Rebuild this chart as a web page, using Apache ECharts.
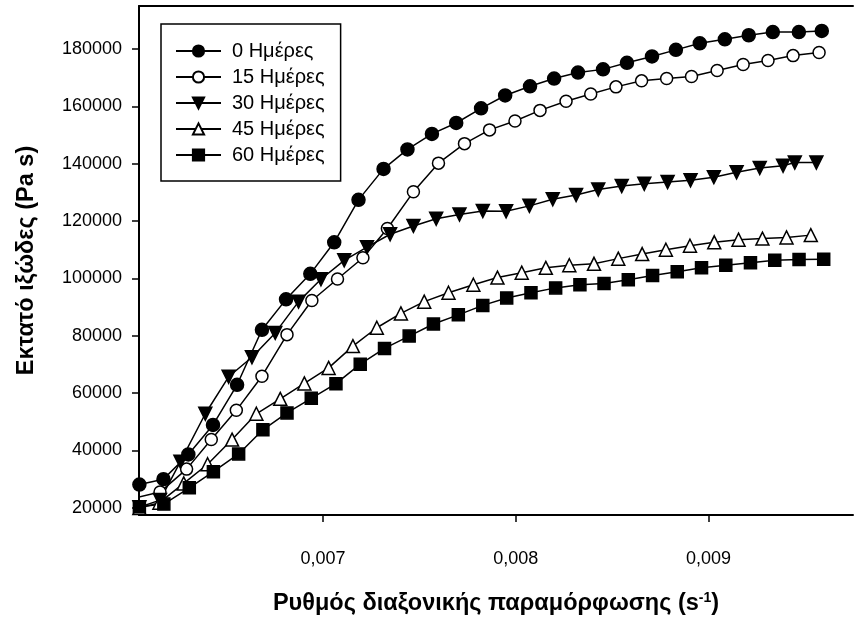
<!DOCTYPE html>
<html>
<head>
<meta charset="utf-8">
<script src="https://cdn.jsdelivr.net/npm/echarts@6/dist/echarts.min.js"></script>
<style>
  html, body { margin: 0; padding: 0; background: #fff; }
  #chart { width: 854px; height: 621px; }
</style>
</head>
<body>
<div id="chart"></div>
<script>
// shear rate values (s^-1) and extensional viscosity (Pa s)
const x0 = [0.006047, 0.006172, 0.006301, 0.006429, 0.006554, 0.006683, 0.006808, 0.006934, 0.007058, 0.007184, 0.007314, 0.007438, 0.007565, 0.007691, 0.007820, 0.007945, 0.008074, 0.008199, 0.008323, 0.008453, 0.008577, 0.008707, 0.008831, 0.008955, 0.009085, 0.009209, 0.009334, 0.009469, 0.009588]
const y0 = [28100, 30000, 38600, 48900, 62900, 82100, 92700, 101600, 112600, 127400, 138200, 145000, 150400, 154200, 159300, 163800, 167000, 169700, 171800, 172900, 175200, 177400, 179700, 182000, 183400, 184800, 185900, 185900, 186300]

const x15 = [0.006023, 0.006154, 0.006292, 0.006420, 0.006550, 0.006683, 0.006813, 0.006942, 0.007075, 0.007207, 0.007334, 0.007469, 0.007599, 0.007734, 0.007864, 0.007996, 0.008126, 0.008261, 0.008389, 0.008520, 0.008653, 0.008783, 0.008912, 0.009045, 0.009180, 0.009309, 0.009439, 0.009574]
const y15 = [23400, 25500, 33500, 43800, 54000, 65900, 80400, 92300, 99800, 107200, 117400, 130200, 140200, 147000, 151800, 154900, 158600, 161800, 164300, 166800, 168900, 169700, 170400, 172500, 174600, 176000, 177700, 178800]

const x30 = [0.006047, 0.006154, 0.006260, 0.006389, 0.006510, 0.006631, 0.006752, 0.006873, 0.006989, 0.007110, 0.007228, 0.007348, 0.007469, 0.007587, 0.007708, 0.007829, 0.007950, 0.008071, 0.008192, 0.008313, 0.008428, 0.008550, 0.008667, 0.008788, 0.008907, 0.009028, 0.009146, 0.009266, 0.009387, 0.009448, 0.009560]
const y30 = [20200, 22700, 36100, 52800, 65700, 72500, 81000, 91900, 99700, 106300, 110900, 115400, 118300, 120800, 122300, 123500, 123400, 125300, 127600, 129100, 131000, 132200, 133000, 133600, 134200, 135300, 137000, 138500, 139300, 140400, 140400]

const x45 = [0.006047, 0.006151, 0.006277, 0.006401, 0.006528, 0.006654, 0.006778, 0.006903, 0.007029, 0.007155, 0.007279, 0.007404, 0.007525, 0.007651, 0.007780, 0.007905, 0.008031, 0.008156, 0.008278, 0.008406, 0.008532, 0.008656, 0.008779, 0.008904, 0.009030, 0.009156, 0.009280, 0.009405, 0.009531]
const y45 = [19900, 21800, 28500, 35200, 43800, 52800, 58000, 63400, 68800, 76400, 82800, 87800, 91900, 95000, 97800, 100300, 102000, 103700, 104600, 105100, 106900, 108500, 110000, 111400, 112600, 113500, 113900, 114300, 115100]

const x60 = [0.006047, 0.006174, 0.006306, 0.006431, 0.006562, 0.006688, 0.006813, 0.006939, 0.007067, 0.007193, 0.007319, 0.007447, 0.007573, 0.007702, 0.007829, 0.007953, 0.008079, 0.008207, 0.008333, 0.008458, 0.008584, 0.008710, 0.008838, 0.008964, 0.009090, 0.009218, 0.009344, 0.009470, 0.009598]
const y60 = [20400, 21300, 27000, 32600, 38800, 47200, 53100, 58200, 63300, 70100, 75600, 79900, 84100, 87300, 90600, 93200, 95000, 96700, 97800, 98200, 99500, 101000, 102300, 103700, 104600, 105500, 106300, 106600, 106700]

const seriesNames = ['0 Ημέρες', '15 Ημέρες', '30 Ημέρες', '45 Ημέρες', '60 Ημέρες']
const xTicks = [0.007, 0.008, 0.009]
const yTicks = [20000, 40000, 60000, 80000, 100000, 120000, 140000, 160000, 180000]

const font = "'Liberation Sans', Arial, sans-serif"

function zip (xs, ys) {
  return xs.map((x, i) => [x, ys[i]])
}

function makeSeries (name, xs, ys, symbol, filled, rotate, size) {
  return {
    name: name,
    type: 'line',
    data: zip(xs, ys),
    symbol: symbol,
    symbolSize: size,
    symbolRotate: rotate,
    showAllSymbol: true,
    clip: true,
    lineStyle: { color: '#000', width: 1.5 },
    itemStyle: {
      color: filled ? '#000' : '#fff',
      borderColor: '#000',
      borderWidth: 1.5
    },
    emphasis: { disabled: true }
  }
}

const myChart = echarts.init(document.getElementById('chart'))
myChart.setOption({
  animation: false,
  textStyle: { fontFamily: font },
  grid: { left: 139, right: 1, top: 6, bottom: 96 },
  legend: {
    orient: 'vertical',
    left: 161,
    top: 24,
    padding: [17, 16, 16, 14],
    itemGap: 6,
    itemWidth: 45,
    itemHeight: 14,
    borderColor: '#000',
    borderWidth: 1.5,
    data: seriesNames,
    textStyle: { fontSize: 20, color: '#000', fontFamily: font, padding: [0, 0, 0, 6] }
  },
  xAxis: [
    {
      type: 'value',
      min: 0.006045,
      max: 0.00975,
      name: 'Ρυθμός διαξονικής παραμόρφωσης (s{sup|-1})',
      nameLocation: 'middle',
      nameGap: 76,
      nameTextStyle: {
        fontSize: 23.5,
        fontWeight: 'bold',
        color: '#000',
        fontFamily: font,
        rich: {
          sup: { fontSize: 14, fontWeight: 'bold', color: '#000', fontFamily: font, padding: [0, 0, 12, 0] }
        }
      },
      axisLine: { show: true, lineStyle: { color: '#000', width: 2 } },
      axisTick: { show: true, length: 7, lineStyle: { color: '#000', width: 1.5 }, customValues: xTicks },
      axisLabel: {
        customValues: xTicks,
        fontSize: 18,
        color: '#000',
        margin: 35,
        formatter: v => v.toFixed(3).replace('.', ',')
      },
      splitLine: { show: false }
    },
    {
      type: 'value',
      position: 'top',
      min: 0.006045,
      max: 0.00975,
      axisLine: { show: true, lineStyle: { color: '#000', width: 2 } },
      axisTick: { show: false },
      axisLabel: { show: false },
      splitLine: { show: false }
    }
  ],
  yAxis: {
    type: 'value',
    min: 17500,
    max: 195000,
    name: 'Εκτατό ιξώδες (Pa s)',
    nameLocation: 'middle',
    nameGap: 100,
    nameTextStyle: { fontSize: 23.5, fontWeight: 'bold', color: '#000', fontFamily: font },
    axisLine: { show: true, lineStyle: { color: '#000', width: 2 } },
    axisTick: { show: true, length: 7, lineStyle: { color: '#000', width: 1.5 }, customValues: yTicks },
    axisLabel: {
      customValues: yTicks,
      fontSize: 18,
      color: '#000',
      margin: 17,
      formatter: v => String(v)
    },
    splitLine: { show: false }
  },
  series: [
    makeSeries(seriesNames[0], x0, y0, 'circle', true, 0, 13),
    makeSeries(seriesNames[1], x15, y15, 'circle', false, 0, 12),
    makeSeries(seriesNames[2], x30, y30, 'triangle', true, 180, 13),
    makeSeries(seriesNames[3], x45, y45, 'triangle', false, 0, 13),
    makeSeries(seriesNames[4], x60, y60, 'rect', true, 0, 12)
  ]
})
window.addEventListener('resize', () => {
  myChart.resize()
})
</script>
</body>
</html>
